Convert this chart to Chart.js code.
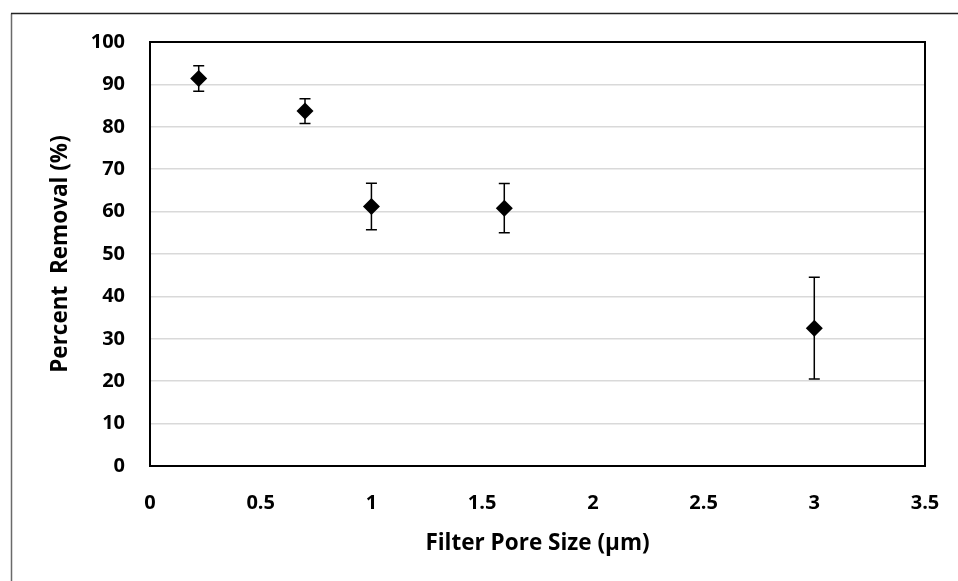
<!DOCTYPE html>
<html><head><meta charset="utf-8">
<script src="https://cdn.jsdelivr.net/npm/chart.js@4.4.0/dist/chart.umd.min.js"></script>
<style>html,body{margin:0;padding:0;background:#fff;overflow:hidden}#wrap{width:958px;height:581px;position:relative}</style>
</head><body><div id="wrap"><canvas id="c" width="958" height="581" style="width:958px;height:581px"></canvas></div>
<script>
// Data
const poreSize = [0.22, 0.7, 1.0, 1.6, 3.0];
const removal = [91.4, 83.7, 61.2, 60.8, 32.5];
const errorBar = [3.0, 2.9, 5.5, 5.8, 12.0];
const xTickValues = [0, 0.5, 1, 1.5, 2, 2.5, 3, 3.5];
const xTickLabels = ['0', '0.5', '1', '1.5', '2', '2.5', '3', '3.5'];
const yTickValues = [0, 10, 20, 30, 40, 50, 60, 70, 80, 90, 100];
const yTickLabels = ['0', '10', '20', '30', '40', '50', '60', '70', '80', '90', '100'];
const xTitle = 'Filter Pore Size (\u03bcm)';
const yTitle = 'Percent  Removal (%)';

const FONT = '"Open Sans", Lato, sans-serif';

const deco = {
  id: 'deco',
  beforeDraw(chart) {
    const ctx = chart.ctx;
    ctx.save();
    ctx.fillStyle = '#fff';
    ctx.fillRect(0, 0, chart.width, chart.height);
    ctx.lineWidth = 1.5;
    ctx.strokeStyle = '#6a6a6a';
    ctx.beginPath(); ctx.moveTo(11.5, chart.height); ctx.lineTo(11.5, 13.5); ctx.stroke();
    ctx.strokeStyle = '#222';
    ctx.beginPath(); ctx.moveTo(11, 13.5); ctx.lineTo(chart.width, 13.5); ctx.stroke();
    ctx.restore();
  },
  beforeDatasetsDraw(chart) {
    const ctx = chart.ctx, a = chart.chartArea;
    const xs = chart.scales.x, ys = chart.scales.y;
    ctx.save();
    ctx.strokeStyle = '#000';
    ctx.lineWidth = 2;
    ctx.strokeRect(a.left, a.top, a.right - a.left, a.bottom - a.top);
    ctx.lineWidth = 1.5;
    for (let i = 0; i < poreSize.length; i++) {
      const px = xs.getPixelForValue(poreSize[i]);
      const hi = ys.getPixelForValue(removal[i] + errorBar[i]);
      const lo = ys.getPixelForValue(removal[i] - errorBar[i]);
      ctx.beginPath();
      ctx.moveTo(px, hi); ctx.lineTo(px, lo);
      ctx.moveTo(px - 5.5, hi); ctx.lineTo(px + 5.5, hi);
      ctx.moveTo(px - 5.5, lo); ctx.lineTo(px + 5.5, lo);
      ctx.stroke();
    }
    ctx.restore();
  }
};

new Chart(document.getElementById('c'), {
  type: 'scatter',
  data: {
    datasets: [{
      data: poreSize.map((x, i) => ({ x: x, y: removal[i] })),
      pointStyle: 'rectRot',
      pointRadius: 8.5,
      pointHoverRadius: 8.5,
      backgroundColor: '#000',
      borderColor: '#000',
      borderWidth: 0
    }]
  },
  options: {
    responsive: false,
    animation: false,
    devicePixelRatio: 1,
    layout: { padding: { top: 42, right: 33, left: 0, bottom: 0 } },
    plugins: { legend: { display: false }, tooltip: { enabled: false } },
    scales: {
      x: {
        type: 'linear', min: 0, max: 3.5,
        afterBuildTicks: s => { s.ticks = xTickValues.map(v => ({ value: v })); },
        afterFit: s => { s.height = 115; s.paddingRight = 0; s.paddingLeft = 0; },
        grid: { display: false, drawTicks: false },
        border: { display: false },
        ticks: {
          padding: 25, color: '#000', maxRotation: 0, autoSkip: false,
          font: { family: FONT, size: 20, weight: '700' },
          callback: (v, i) => xTickLabels[i]
        },
        title: {
          display: true, text: xTitle, color: '#000',
          font: { family: FONT, size: 22.5, weight: '700' },
          padding: { top: 0, bottom: 24 }
        }
      },
      y: {
        min: 0, max: 100,
        afterBuildTicks: s => { s.ticks = yTickValues.map(v => ({ value: v })); },
        afterFit: s => { s.width = 150; s.paddingTop = 0; s.paddingBottom = 0; },
        grid: { color: '#d9d9d9', lineWidth: 1.5, drawTicks: false },
        border: { display: false },
        ticks: {
          padding: 25, color: '#000', autoSkip: false,
          font: { family: FONT, size: 20, weight: '700' },
          callback: (v, i) => yTickLabels[i]
        },
        title: {
          display: true, text: yTitle, color: '#000',
          font: { family: FONT, size: 22.5, weight: '700' },
          padding: { top: 47, bottom: 0 }
        }
      }
    }
  },
  plugins: [deco]
});
</script></body></html>
